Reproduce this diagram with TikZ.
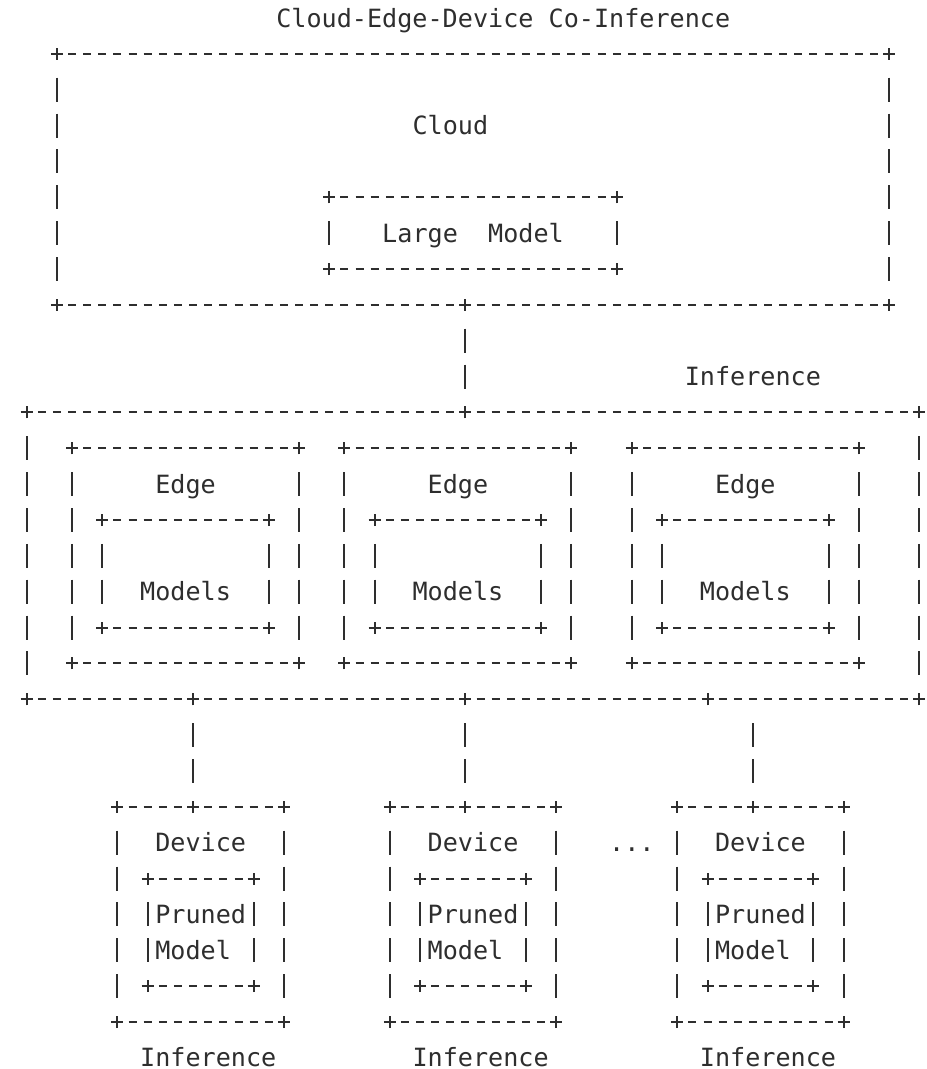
\documentclass[tikz,border=0pt]{standalone}
\usepackage{fontspec}
\newfontfamily\asciifont{DejaVu Sans Mono}
\usetikzlibrary{calc}
\usetikzlibrary{fit}

% one character cell of the text grid
\newcommand{\cw}{15.13pt}
\newcommand{\rh}{35.86pt}

\tikzset{
  ink/.style={black!82},
  lbl/.style={ink, font={\asciifont\fontsize{25.13pt}{30pt}\selectfont}, inner sep=0pt, text height=18.3pt, text depth=0pt},
  abox/.style={rectangle, inner sep=0pt, outer sep=0pt},
  hdash/.style={ink, line width=2pt, dash pattern=on 8pt off 7.13pt, dash phase=11.565pt},
  vdash/.style={ink, line width=2pt, dash pattern=on 24pt off 11.86pt, dash phase=29.93pt},
  crux/.style={ink, line width=2pt},
}

% plus sign at a corner or joint
\newcommand{\crux}[1]{%
  \draw[crux] ([xshift=-6pt]#1) -- ([xshift=6pt]#1);
  \draw[crux] ([yshift=-6pt]#1) -- ([yshift=6pt]#1);
}
% dashed frame round a box node
\newcommand{\frameit}[1]{%
  \draw[hdash] ([xshift=.5*\cw]#1.north west) -- ([xshift=-.5*\cw]#1.north east);
  \draw[hdash] ([xshift=.5*\cw]#1.south west) -- ([xshift=-.5*\cw]#1.south east);
  \draw[vdash] ([yshift=-.5*\rh]#1.north west) -- ([yshift=.5*\rh]#1.south west);
  \draw[vdash] ([yshift=-.5*\rh]#1.north east) -- ([yshift=.5*\rh]#1.south east);
  \crux{#1.north west}\crux{#1.north east}\crux{#1.south west}\crux{#1.south east}%
}

\begin{document}
\begin{tikzpicture}[x=\cw, y=-\rh]
\useasboundingbox (-1.765,-0.502) rectangle (59.5,29.31);

\node[lbl] (title) at (31.5,0) {Cloud-Edge-Device Co-Inference};

% cloud
\node[abox, fit={(2,1) (57,8)}] (cloud) {};
\frameit{cloud}
\node[lbl] (cloud-l) at (28,3) {Cloud};
\node[abox, fit={(20,5) (39,7)}] (large) {};
\frameit{large}
\node[lbl] (large-l) at (29.5,6) {Large\ \ Model};
\coordinate (cloud-j) at (29,8);
\crux{cloud-j}

% edge layer
\node[abox, fit={(0,11) (59,19)}] (edge) {};
\frameit{edge}
\coordinate (edge-j) at (29,11);
\crux{edge-j}
\draw[vdash] ([yshift=-.5*\rh]cloud-j) -- ([yshift=.5*\rh]edge-j);
\node[lbl] (inf0) at (48,10) {Inference};

\begin{scope}[shift={(0,0)}]
    \node[abox, fit={(3,12) (18,18)}] (e1) {};
    \frameit{e1}
    \node[lbl] (e1-l) at (10.5,13) {Edge};
    \node[abox, fit={(5,14) (16,17)}] (m1) {};
    \frameit{m1}
    \node[lbl] (m1-l) at (10.5,16) {Models};

    \coordinate (edge-j1) at (11,19);
    \crux{edge-j1}
    \node[abox, fit={(6,22) (17,28)}] (d1) {};
    \frameit{d1}
    \coordinate (d1-j) at (11,22);
    \crux{d1-j}
    \draw[vdash] ([yshift=-.5*\rh]edge-j1) -- ([yshift=.5*\rh]d1-j);
    \node[lbl] (d1-l) at (11.5,23) {Device};
    \node[abox, fit={(8,24) (15,27)}] (p1) {};
    \frameit{p1}
    \node[lbl] (p1-a) at (11.5,25) {Pruned};
    \node[lbl] (p1-b) at (11,26) {Model};
    \node[lbl] (inf1) at (12,28.98) {Inference};
\end{scope}

\begin{scope}[shift={(18,0)}]
    \node[abox, fit={(3,12) (18,18)}] (e2) {};
    \frameit{e2}
    \node[lbl] (e2-l) at (10.5,13) {Edge};
    \node[abox, fit={(5,14) (16,17)}] (m2) {};
    \frameit{m2}
    \node[lbl] (m2-l) at (10.5,16) {Models};

    \coordinate (edge-j2) at (11,19);
    \crux{edge-j2}
    \node[abox, fit={(6,22) (17,28)}] (d2) {};
    \frameit{d2}
    \coordinate (d2-j) at (11,22);
    \crux{d2-j}
    \draw[vdash] ([yshift=-.5*\rh]edge-j2) -- ([yshift=.5*\rh]d2-j);
    \node[lbl] (d2-l) at (11.5,23) {Device};
    \node[abox, fit={(8,24) (15,27)}] (p2) {};
    \frameit{p2}
    \node[lbl] (p2-a) at (11.5,25) {Pruned};
    \node[lbl] (p2-b) at (11,26) {Model};
    \node[lbl] (inf2) at (12,28.98) {Inference};
\end{scope}

\begin{scope}[shift={(37,0)}]
    \node[abox, fit={(3,12) (18,18)}] (e3) {};
    \frameit{e3}
    \node[lbl] (e3-l) at (10.5,13) {Edge};
    \node[abox, fit={(5,14) (16,17)}] (m3) {};
    \frameit{m3}
    \node[lbl] (m3-l) at (10.5,16) {Models};

    \coordinate (edge-j3) at (8,19);
    \crux{edge-j3}
    \coordinate (t3) at (11,19);
    \node[abox, fit={(6,22) (17,28)}] (d3) {};
    \frameit{d3}
    \coordinate (d3-j) at (11,22);
    \crux{d3-j}
    \draw[vdash] ([yshift=-.5*\rh]t3) -- ([yshift=.5*\rh]d3-j);
    \node[lbl] (d3-l) at (11.5,23) {Device};
    \node[abox, fit={(8,24) (15,27)}] (p3) {};
    \frameit{p3}
    \node[lbl] (p3-a) at (11.5,25) {Pruned};
    \node[lbl] (p3-b) at (11,26) {Model};
    \node[lbl] (inf3) at (12,28.98) {Inference};
\end{scope}

\node[lbl] (more) at (40,23) {...};
\end{tikzpicture}
\end{document}
